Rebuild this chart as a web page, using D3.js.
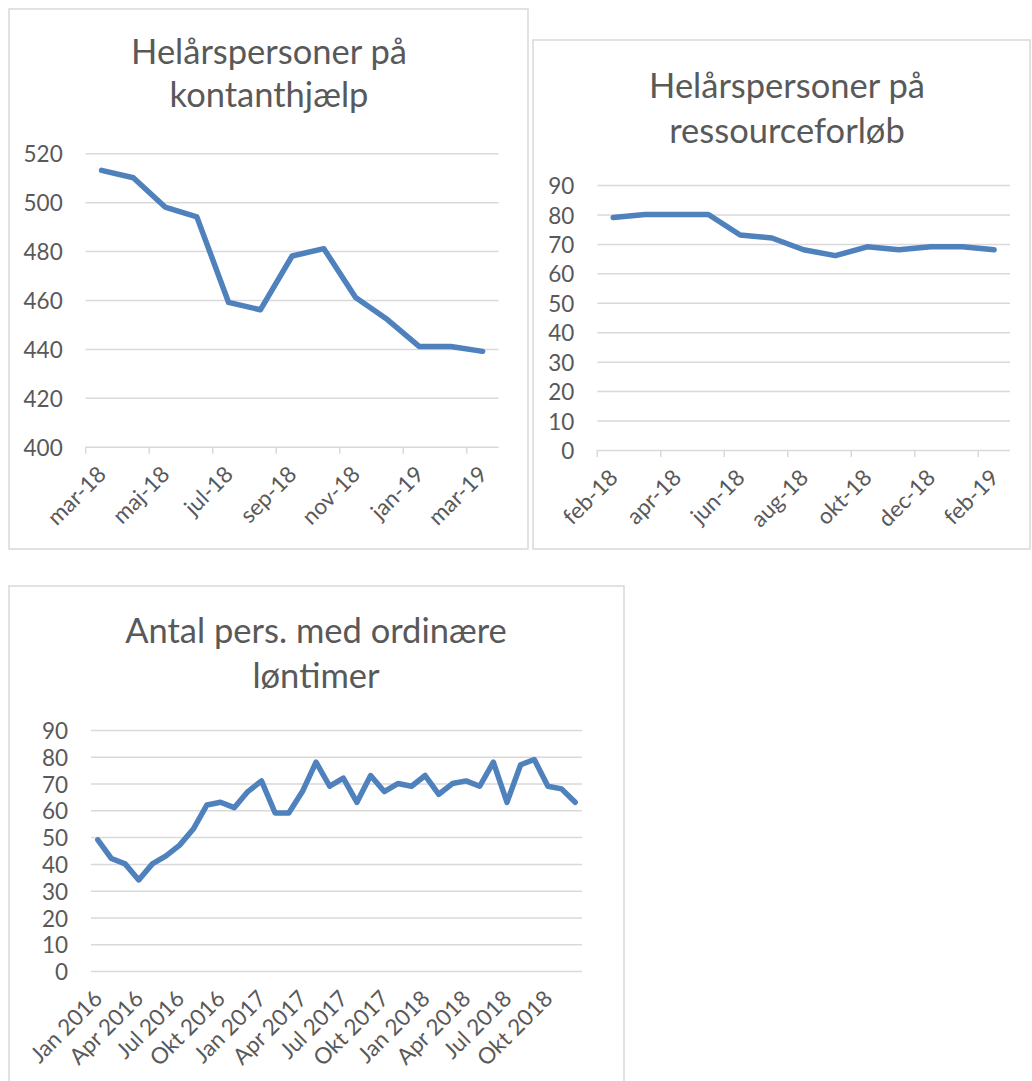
<!DOCTYPE html>
<html>
<head>
<meta charset="utf-8">
<script src="https://cdn.jsdelivr.net/npm/d3@7"></script>
<style>
  body { margin: 0; background: #ffffff; }
  svg text { font-family: Lato, "Open Sans", sans-serif; fill: #595959; }
</style>
</head>
<body>
<div id="chart"></div>
<script>
// data
var kontantMonths = ["mar-18","apr-18","maj-18","jun-18","jul-18","aug-18","sep-18","okt-18","nov-18","dec-18","jan-19","feb-19","mar-19"];
var kontantValues = [513,510,498,494,459,456,478,481,461,452,441,441,439];
var kontantXTicks = ["mar-18","maj-18","jul-18","sep-18","nov-18","jan-19","mar-19"];
var kontantYTicks = [400,420,440,460,480,500,520];

var ressourceMonths = ["feb-18","mar-18","apr-18","maj-18","jun-18","jul-18","aug-18","sep-18","okt-18","nov-18","dec-18","jan-19","feb-19"];
var ressourceValues = [79,80,80,80,73,72,68,66,69,68,69,69,68];
var ressourceXTicks = ["feb-18","apr-18","jun-18","aug-18","okt-18","dec-18","feb-19"];
var ressourceYTicks = [0,10,20,30,40,50,60,70,80,90];

var loenMonths = ["Jan 2016","Feb 2016","Mar 2016","Apr 2016","Maj 2016","Jun 2016","Jul 2016","Aug 2016","Sep 2016","Okt 2016","Nov 2016","Dec 2016",
  "Jan 2017","Feb 2017","Mar 2017","Apr 2017","Maj 2017","Jun 2017","Jul 2017","Aug 2017","Sep 2017","Okt 2017","Nov 2017","Dec 2017",
  "Jan 2018","Feb 2018","Mar 2018","Apr 2018","Maj 2018","Jun 2018","Jul 2018","Aug 2018","Sep 2018","Okt 2018","Nov 2018","Dec 2018"];
var loenValues = [49,42,40,34,40,43,47,53,62,63,61,67,71,59,59,67,78,69,72,63,73,67,70,69,73,66,70,71,69,78,63,77,79,69,68,63];
var loenXTicks = ["Jan 2016","Apr 2016","Jul 2016","Okt 2016","Jan 2017","Apr 2017","Jul 2017","Okt 2017","Jan 2018","Apr 2018","Jul 2018","Okt 2018"];
var loenYTicks = [0,10,20,30,40,50,60,70,80,90];

var width = 1032, height = 1081;
var line_color = "#4f81bd";
var grid_color = "#d9d9d9";
var label_size = "22.5px";

var svg = d3.select("#chart").append("svg")
  .attr("width", width)
  .attr("height", height)

//draw one excel-like line chart
function draw_line_chart(o){
  var g = svg.append("g")

  //frame
  g.append("rect")
    .attr("x", o.frame[0]).attr("y", o.frame[1])
    .attr("width", o.frame[2]).attr("height", o.frame[3])
    .style("fill", "#ffffff")
    .style("stroke", grid_color)
    .style("stroke-width", 1.5)

  //title, two lines
  g.selectAll(".title")
    .data(o.title).enter()
    .append("text")
    .attr("class", "title")
    .attr("x", o.titleX)
    .attr("y", function(d, i){ return o.titleY[i]; })
    .attr("text-anchor", "middle")
    .style("font-size", "34.5px")
    .text(function(d){ return d; })

  var x = d3.scaleBand().domain(o.categories).range([o.left, o.right]).padding(0);
  var y = d3.scaleLinear().domain(o.domain).range([o.bottom, o.top]);

  //y axis with gridlines
  var yAxis = d3.axisLeft(y)
    .tickValues(o.yTicks)
    .tickSize(-(o.right - o.left))
    .tickPadding(23)
    .tickFormat(d3.format("d"));
  var ya = g.append("g")
    .attr("transform", "translate(" + o.left + ",0)")
    .call(yAxis);
  ya.select(".domain").remove();
  ya.selectAll("line").style("stroke", grid_color).style("stroke-width", 1.5);
  ya.selectAll("text")
    .style("font-size", label_size)
    .style("font-family", "Lato, 'Open Sans', sans-serif")
    .style("fill", "#595959")
    .attr("dy", "0.38em");

  //tick marks between categories
  if(o.tickMarks){
    g.selectAll(".xtick")
      .data(o.xTicks).enter()
      .append("line")
      .attr("class", "xtick")
      .attr("x1", function(d){ return x(d); })
      .attr("x2", function(d){ return x(d); })
      .attr("y1", o.bottom)
      .attr("y2", o.bottom + 7)
      .style("stroke", grid_color)
      .style("stroke-width", 1.5)
  }

  //rotated category labels
  g.selectAll(".xlabel")
    .data(o.xTicks).enter()
    .append("text")
    .attr("class", "xlabel")
    .attr("text-anchor", "end")
    .style("font-size", label_size)
    .attr("transform", function(d){
      var cx = x(d) + x.bandwidth()/2 + 6;
      var cy = o.bottom + 29;
      return "translate(" + cx + "," + cy + ") rotate(-45)";
    })
    .text(function(d){ return d; })

  //the line
  var line = d3.line()
    .x(function(d, i){ return x(o.categories[i]) + x.bandwidth()/2; })
    .y(function(d){ return y(d); });
  g.append("path")
    .datum(o.values)
    .attr("d", line)
    .style("fill", "none")
    .style("stroke", line_color)
    .style("stroke-width", 5.5)
    .style("stroke-linejoin", "round")
    .style("stroke-linecap", "round")
}

draw_line_chart({
  frame: [9, 9, 519, 540],
  title: ["Helårspersoner på", "kontanthjælp"],
  titleX: 269, titleY: [64, 107],
  categories: kontantMonths, values: kontantValues,
  xTicks: kontantXTicks, yTicks: kontantYTicks,
  domain: [400, 520],
  left: 85.7, right: 498.5, top: 153.3, bottom: 446.7,
  tickMarks: true
});

draw_line_chart({
  frame: [533, 40, 497, 509],
  title: ["Helårspersoner på", "ressourceforløb"],
  titleX: 787, titleY: [98, 143],
  categories: ressourceMonths, values: ressourceValues,
  xTicks: ressourceXTicks, yTicks: ressourceYTicks,
  domain: [0, 90],
  left: 597.3, right: 1010, top: 185, bottom: 450,
  tickMarks: true
});

draw_line_chart({
  frame: [9, 586, 615, 510],
  title: ["Antal pers. med ordinære", "løntimer"],
  titleX: 316, titleY: [643, 688],
  categories: loenMonths, values: loenValues,
  xTicks: loenXTicks, yTicks: loenYTicks,
  domain: [0, 90],
  left: 91, right: 582, top: 730, bottom: 971,
  tickMarks: false
});
</script>
</body>
</html>
